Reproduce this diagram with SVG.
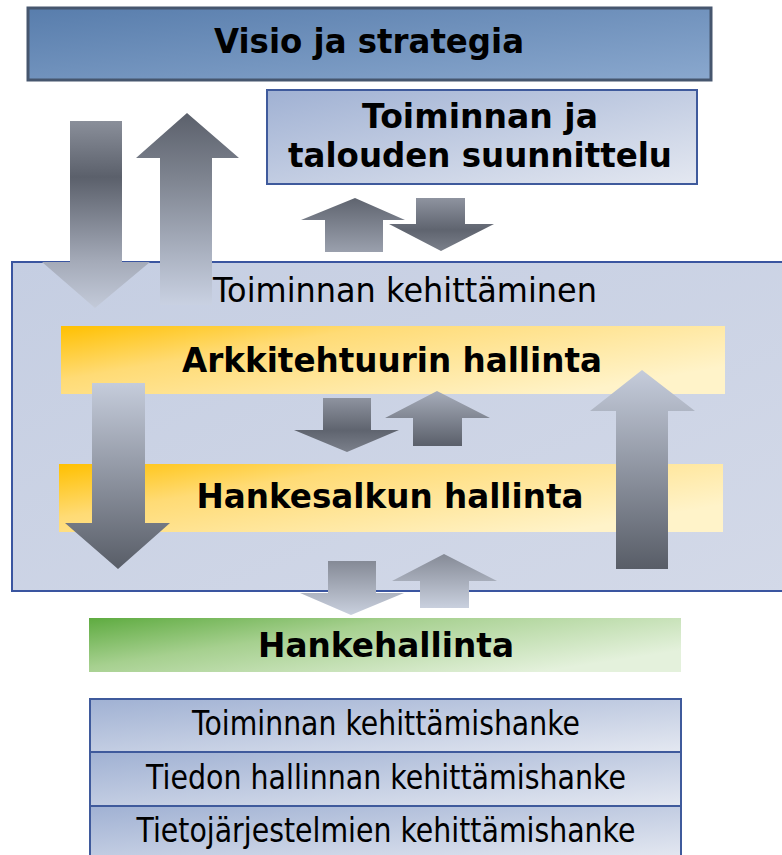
<svg xmlns="http://www.w3.org/2000/svg" width="782" height="855" viewBox="0 0 782 855">
<defs>
<linearGradient id="gVisio" x1="0" y1="0" x2="1" y2="1"><stop offset="0" stop-color="#587dac"/><stop offset="1" stop-color="#8aa8ce"/></linearGradient>
<linearGradient id="gBlue" x1="0" y1="0" x2="1" y2="1"><stop offset="0" stop-color="#a0b1d3"/><stop offset="1" stop-color="#e4e8f1"/></linearGradient>
<linearGradient id="gOuter" x1="0" y1="0" x2="1" y2="1"><stop offset="0" stop-color="#c5cee2"/><stop offset="1" stop-color="#d3d9e8"/></linearGradient>
<linearGradient id="gYellow" x1="0" y1="0" x2="1" y2="0.6"><stop offset="0" stop-color="#ffc000"/><stop offset="0.35" stop-color="#ffdb75"/><stop offset="1" stop-color="#fff3c9"/></linearGradient>
<linearGradient id="gGreen" x1="0" y1="0" x2="1" y2="0.6"><stop offset="0" stop-color="#5eab40"/><stop offset="0.4" stop-color="#a6d08f"/><stop offset="1" stop-color="#e4f1dc"/></linearGradient>
<linearGradient id="aDownTL" x1="0" y1="0" x2="0" y2="1"><stop offset="0" stop-color="#8a8f9a"/><stop offset="0.3" stop-color="#5b606b"/><stop offset="0.75" stop-color="#a4aab8"/><stop offset="1" stop-color="#c3cad9"/></linearGradient>
<linearGradient id="aUpTL" x1="0" y1="0" x2="0" y2="1"><stop offset="0" stop-color="#5b606b"/><stop offset="0.35" stop-color="#7f8591"/><stop offset="1" stop-color="#c9d1e2"/></linearGradient>
<linearGradient id="aLightToDark" x1="0" y1="0" x2="0" y2="1"><stop offset="0" stop-color="#c5ccdb"/><stop offset="1" stop-color="#585d67"/></linearGradient>
<linearGradient id="aMidLightToDark" x1="0" y1="0" x2="0" y2="1"><stop offset="0" stop-color="#a7adba"/><stop offset="1" stop-color="#5a5f6a"/></linearGradient>
<linearGradient id="aDarkToMid" x1="0" y1="0" x2="0" y2="1"><stop offset="0" stop-color="#5f646f"/><stop offset="1" stop-color="#9aa0ad"/></linearGradient>
<linearGradient id="aMidToDark" x1="0" y1="0" x2="0" y2="1"><stop offset="0" stop-color="#8e939f"/><stop offset="0.6" stop-color="#5f646f"/><stop offset="1" stop-color="#7b808b"/></linearGradient>
<linearGradient id="aMidToLight" x1="0" y1="0" x2="0" y2="1"><stop offset="0" stop-color="#858a96"/><stop offset="1" stop-color="#c9d0de"/></linearGradient>
</defs>
<style>
.b{font-family:"DejaVu Sans","Liberation Sans",sans-serif;font-weight:bold;font-size:34px;fill:#000;text-anchor:middle}
.r{font-family:"DejaVu Sans","Liberation Sans",sans-serif;font-size:34px;fill:#000;text-anchor:middle}
.blueBox{fill:url(#gBlue);stroke:#3f5a9c;stroke-width:2}
</style>
<rect width="782" height="855" fill="#ffffff"/>

<g id="visio">
<rect x="28" y="8" width="683" height="72" fill="url(#gVisio)" stroke="#46566e" stroke-width="3"/>
<text class="b" x="369" y="53" textLength="310" lengthAdjust="spacingAndGlyphs">Visio ja strategia</text>
</g>

<g id="suunnittelu">
<rect class="blueBox" x="267" y="90" width="430" height="94"/>
<text class="b" x="480" y="128" textLength="236" lengthAdjust="spacingAndGlyphs">Toiminnan ja</text>
<text class="b" x="480" y="167" textLength="384" lengthAdjust="spacingAndGlyphs">talouden suunnittelu</text>
</g>

<g id="kehittaminen">
<rect x="12" y="262" width="790" height="329" fill="url(#gOuter)" stroke="#3a55a0" stroke-width="2"/>
<text class="r" x="405" y="302" textLength="384" lengthAdjust="spacingAndGlyphs">Toiminnan kehittäminen</text>
</g>

<g id="arkkitehtuuri">
<rect x="61" y="326" width="664" height="68" fill="url(#gYellow)"/>
<text class="b" x="392" y="372" textLength="420" lengthAdjust="spacingAndGlyphs">Arkkitehtuurin hallinta</text>
</g>

<g id="hankesalkku">
<rect x="59" y="464" width="664" height="68" fill="url(#gYellow)"/>
<text class="b" x="390" y="508" textLength="387" lengthAdjust="spacingAndGlyphs">Hankesalkun hallinta</text>
</g>

<g id="hankehallinta">
<rect x="89" y="618" width="592" height="54" fill="url(#gGreen)"/>
<text class="b" x="386" y="657" textLength="256" lengthAdjust="spacingAndGlyphs">Hankehallinta</text>
</g>

<g id="hankkeet">
<rect class="blueBox" x="90" y="699" width="591" height="53"/>
<text class="r" x="386" y="735" textLength="388" lengthAdjust="spacingAndGlyphs">Toiminnan kehittämishanke</text>
<rect class="blueBox" x="90" y="752" width="591" height="54"/>
<text class="r" x="386" y="789" textLength="480" lengthAdjust="spacingAndGlyphs">Tiedon hallinnan kehittämishanke</text>
<rect class="blueBox" x="90" y="806" width="591" height="52"/>
<text class="r" x="386" y="842" textLength="499" lengthAdjust="spacingAndGlyphs">Tietojärjestelmien kehittämishanke</text>
</g>

<g id="connectors">
<polygon points="70,121 122,121 122,262 150,262 95,308 42,262 70,262" fill="url(#aDownTL)"/>
<polygon points="187,113 239,158 212,158 212,305 160,305 160,158 136,158" fill="url(#aUpTL)"/>
<polygon points="355,198 405,220 383,220 383,252 325,252 325,220 301,220" fill="url(#aDarkToMid)"/>
<polygon points="416,198 465,198 465,224 494,224 441,251 389,224 416,224" fill="url(#aMidToDark)"/>
<polygon points="92,383 145,383 145,523 170,523 118,569 65,523 92,523" fill="url(#aLightToDark)"/>
<polygon points="642,370 695,411 668,411 668,569 616,569 616,411 590,411" fill="url(#aLightToDark)"/>
<polygon points="323,398 371,398 371,430 399,430 347,452 294,430 323,430" fill="url(#aMidToDark)"/>
<polygon points="437,391 490,418 462,418 462,446 413,446 413,418 385,418" fill="url(#aMidLightToDark)"/>
<polygon points="328,561 376,561 376,593 404,593 351,615 300,593 328,593" fill="url(#aMidToLight)"/>
<polygon points="444,554 497,581 469,581 469,608 420,608 420,581 392,581" fill="url(#aMidToLight)"/>
</g>
</svg>
